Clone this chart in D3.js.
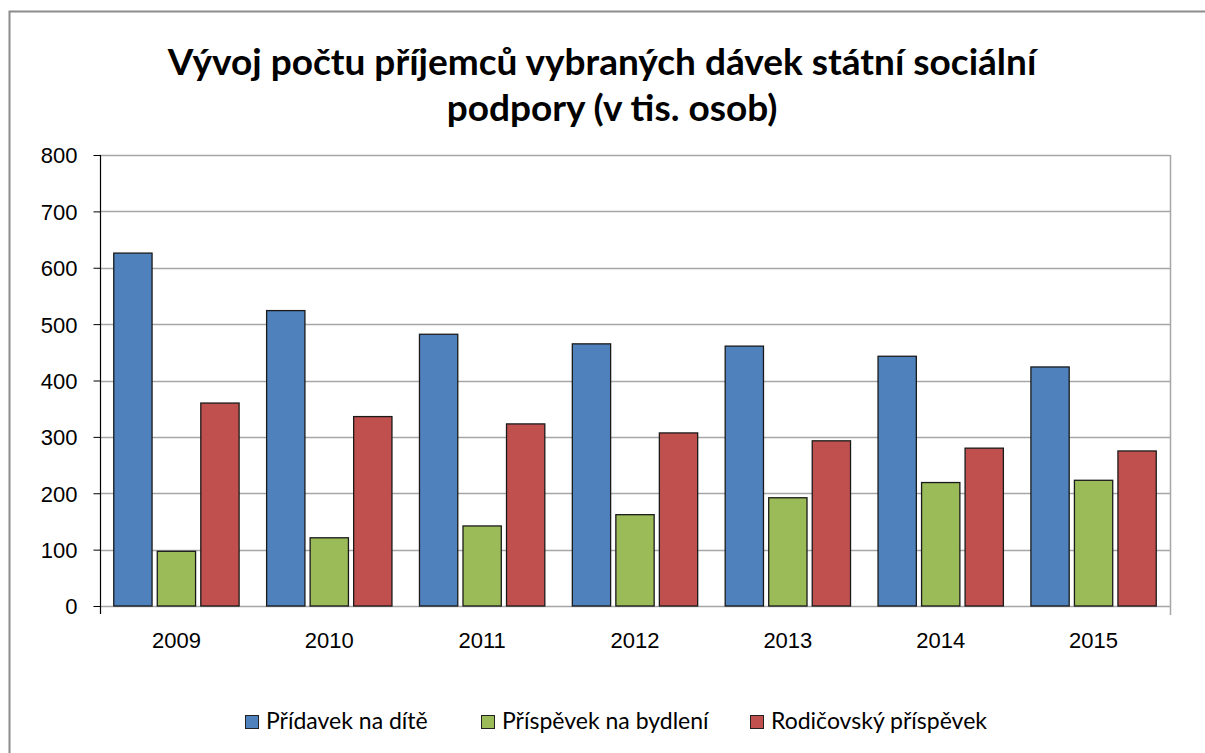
<!DOCTYPE html>
<html>
<head>
<meta charset="utf-8">
<script src="https://cdn.jsdelivr.net/npm/d3@7"></script>
<style>
  body { margin: 0; background: #fff; }
  svg { display: block; font-family: Lato, "Open Sans", sans-serif; }
</style>
</head>
<body>
<svg id="chart"></svg>
<script>
const years = ['2009', '2010', '2011', '2012', '2013', '2014', '2015']
const seriesNames = ['Přídavek na dítě', 'Příspěvek na bydlení', 'Rodičovský příspěvek']
const pridavek = [626, 524, 482, 465, 461, 443, 424]
const bydleni = [97, 121, 142, 162, 192, 219, 223]
const rodicovsky = [360, 336, 323, 307, 293, 280, 275]
const yTicks = [0, 100, 200, 300, 400, 500, 600, 700, 800]
const colors = ['#4F81BD', '#9BBB59', '#C0504D']

const width = 1205
const height = 753
const plotLeft = 100, plotRight = 1170, plotTop = 155, plotBottom = 606

const svg = d3.select('#chart').attr('width', width).attr('height', height)

// frame of the chart object
svg.append('path')
    .attr('d', `M9.5,${height} L9.5,11.5 L${width},11.5`)
    .attr('fill', 'none')
    .attr('stroke', '#8c8c8c')
    .attr('stroke-width', 2)

// title
const title = svg.append('text')
    .attr('text-anchor', 'middle')
    .attr('font-weight', 'bold')
    .attr('font-size', 37)
    .attr('fill', '#000')
title.append('tspan').attr('x', 602).attr('y', 75).text('Vývoj počtu příjemců vybraných dávek státní sociální')
title.append('tspan').attr('x', 612).attr('y', 121).text('podpory (v tis. osob)')

const y = d3.scaleLinear().domain([0, 800]).range([plotBottom, plotTop])
const x0 = d3.scaleBand().domain(years).range([plotLeft, plotRight]).paddingInner(0.18).paddingOuter(0.09)
const x1 = d3.scaleBand().domain(seriesNames).range([0, x0.bandwidth()]).paddingInner(0.12).paddingOuter(0)

// gridlines
svg.append('g')
    .selectAll('line')
    .data(yTicks)
    .join('line')
    .attr('x1', plotLeft).attr('x2', plotRight)
    .attr('y1', d => Math.round(y(d)) + 0.5).attr('y2', d => Math.round(y(d)) + 0.5)
    .attr('stroke', '#a6a6a6')
    .attr('stroke-width', 1.5)

// right border of plot
svg.append('line')
    .attr('x1', plotRight + 0.5).attr('x2', plotRight + 0.5)
    .attr('y1', plotTop).attr('y2', plotBottom + 9)
    .attr('stroke', '#a6a6a6').attr('stroke-width', 1.5)

// y axis
const yAxis = d3.axisLeft(y).tickValues(yTicks).tickSize(7).tickPadding(16)
const gy = svg.append('g')
    .attr('transform', `translate(${plotLeft + 0.5},0)`)
    .call(yAxis)
gy.select('.domain').remove()
gy.selectAll('line').attr('stroke', '#000')
gy.selectAll('text').attr('font-size', 22).attr('fill', '#000').attr('dy', '0.36em')
gy.append('line')
    .attr('y1', plotTop).attr('y2', plotBottom + 8)
    .attr('stroke', '#000').attr('stroke-width', 1.2)

// bars
const data = years.map((yr, i) => ({
    year: yr,
    values: [pridavek[i], bydleni[i], rodicovsky[i]]
}))

const groups = svg.append('g')
    .selectAll('g')
    .data(data)
    .join('g')
    .attr('transform', d => `translate(${x0(d.year)},0)`)

groups.selectAll('rect')
    .data(d => d.values.map((v, j) => ({ name: seriesNames[j], value: v, color: colors[j] })))
    .join('rect')
    .attr('x', d => x1(d.name))
    .attr('y', d => y(d.value))
    .attr('width', x1.bandwidth())
    .attr('height', d => plotBottom - y(d.value))
    .attr('fill', d => d.color)
    .attr('stroke', '#1a1a1a')
    .attr('stroke-width', 1.3)

// x labels
const xAxis = d3.axisBottom(x0).tickSize(0)
const gx = svg.append('g')
    .attr('transform', `translate(0,${plotBottom})`)
    .call(xAxis)
gx.select('.domain').remove()
gx.selectAll('text').attr('font-size', 22).attr('fill', '#000').attr('y', 42).attr('dy', 0)

// legend
const legendX = [245, 481, 750]
const legend = svg.append('g')
    .selectAll('g')
    .data(seriesNames)
    .join('g')
    .attr('transform', (d, i) => `translate(${legendX[i]},722)`)
legend.append('rect')
    .attr('x', 0.5).attr('y', -6.5)
    .attr('width', 13).attr('height', 13)
    .attr('fill', (d, i) => colors[i])
    .attr('stroke', '#222')
    .attr('stroke-width', 1)
legend.append('text')
    .attr('x', 21).attr('y', 7)
    .attr('font-size', 23)
    .attr('fill', '#000')
    .text(d => d)
</script>
</body>
</html>
